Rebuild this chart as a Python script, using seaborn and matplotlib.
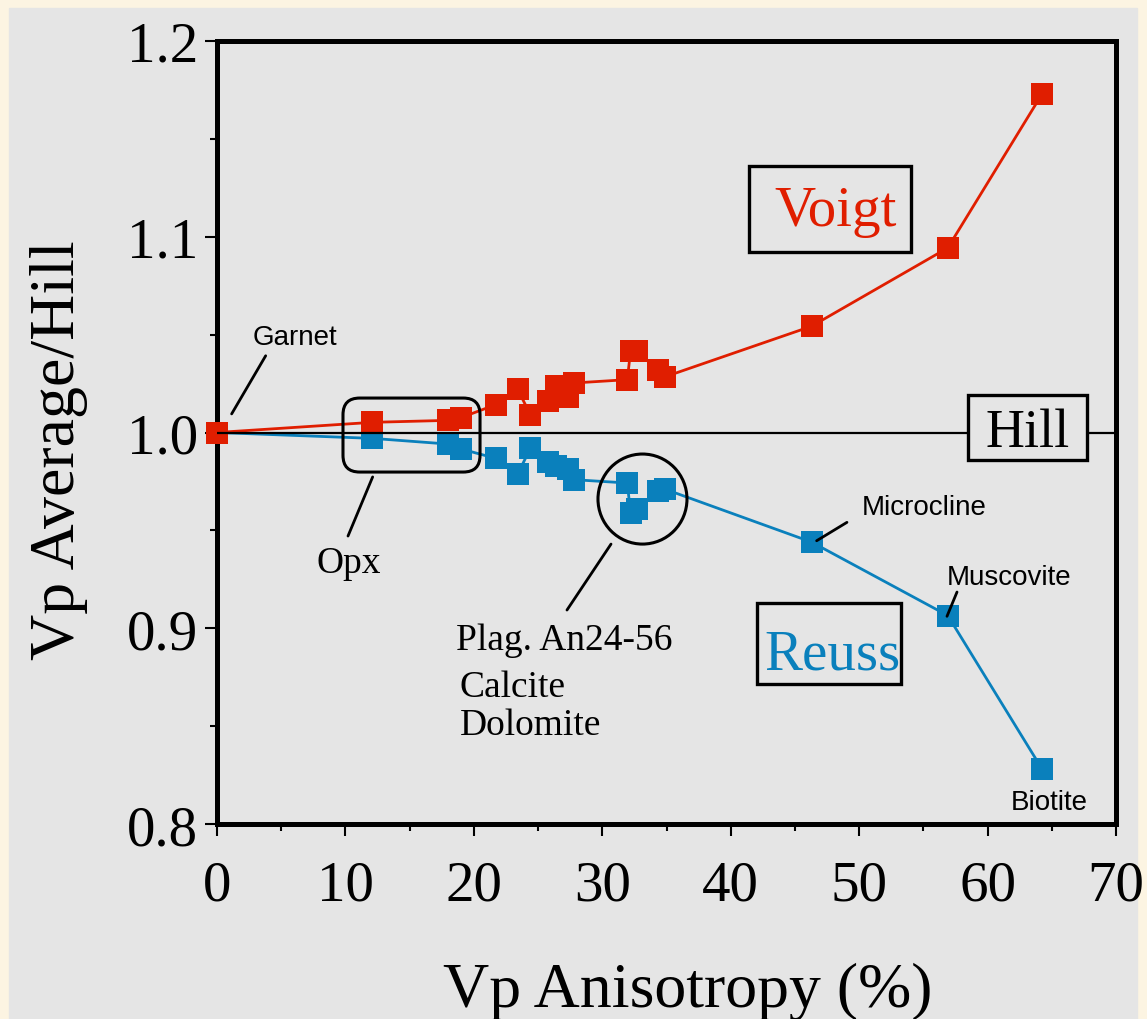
import pandas as pd
import numpy as np

import seaborn as sns
import matplotlib.pyplot as plt
from matplotlib.patches import Rectangle, FancyBboxPatch, Ellipse
from matplotlib.ticker import MultipleLocator

sns.set_style("white")
plt.rcParams["font.family"] = ["Liberation Serif", "DejaVu Serif"]
plt.rcParams.update({"text.color": "black", "axes.labelcolor": "black",
                     "xtick.color": "black", "ytick.color": "black"})

SANS = ["Liberation Sans", "DejaVu Sans"]
RED = "#e01e00"
BLUE = "#0a80bc"
GRAY = "#e5e5e5"
CREAM = "#fcf4e2"

# Vp anisotropy (%) of each mineral and its Voigt / Reuss average normalised by Hill
anisotropy = [0.0, 12.1, 18.0, 19.0, 21.7, 23.4, 24.4, 25.75, 26.4, 27.3, 27.8,
              31.95, 32.2, 32.7, 34.3, 34.9, 46.3, 56.9, 64.25]
voigt = [1.000, 1.0052, 1.0062, 1.0076, 1.0142, 1.0222, 1.0091, 1.016, 1.0236,
         1.018, 1.0253, 1.027, 1.0416, 1.0416, 1.0319, 1.0285, 1.0543, 1.0943, 1.173]
reuss = [1.000, 0.997, 0.9941, 0.9916, 0.9868, 0.9786, 0.9919, 0.9851, 0.983,
         0.9814, 0.9759, 0.9742, 0.9587, 0.9609, 0.9701, 0.971, 0.944, 0.9065, 0.828]

df = pd.DataFrame({"anisotropy": anisotropy, "Voigt": voigt, "Reuss": reuss})

fig = plt.figure(figsize=(11.47, 10.20), dpi=100, facecolor=CREAM)
fig.add_artist(Rectangle((9 / 1147, 0), 1128 / 1147, 1011 / 1020,
                         transform=fig.transFigure, color=GRAY, zorder=-10))
ax = fig.add_axes([217 / 1147, 195 / 1020, 899 / 1147, 783 / 1020])
ax.set_facecolor(GRAY)

sns.lineplot(data=df, x="anisotropy", y="Reuss", ax=ax, color=BLUE, marker="s",
             markersize=16, markeredgewidth=0, lw=2.0, estimator=None,
             clip_on=False, zorder=3)
sns.lineplot(data=df, x="anisotropy", y="Voigt", ax=ax, color=RED, marker="s",
             markersize=16, markeredgewidth=0, lw=2.0, estimator=None,
             clip_on=False, zorder=4)

# Hill reference line
ax.axhline(1.0, color="black", lw=1.6, zorder=5)

ax.set_xlim(0, 70)
ax.set_ylim(0.8, 1.2)
ax.xaxis.set_major_locator(MultipleLocator(10))
ax.xaxis.set_minor_locator(MultipleLocator(5))
ax.yaxis.set_major_locator(MultipleLocator(0.1))
ax.yaxis.set_minor_locator(MultipleLocator(0.05))
ax.tick_params(which="both", direction="out", width=1.5, labelsize=41,
               colors="black", left=True, bottom=True)
ax.tick_params(which="major", length=8.6)
ax.tick_params(which="minor", length=5)
ax.tick_params(axis="x", pad=17)
ax.tick_params(axis="y", pad=5)
for sp in ax.spines.values():
    sp.set_linewidth(3.6)
    sp.set_color("black")
    sp.set_zorder(2)

ax.set_xlabel("Vp Anisotropy (%)", fontsize=46)
ax.set_ylabel("Vp Average/Hill", fontsize=46)
ax.xaxis.set_label_coords(0.524, -0.176)
ax.yaxis.set_label_coords(-0.1435, 0.479)

# labelled boxes
box_kw = dict(fill=True, fc=GRAY, ec="black", lw=2.4, zorder=6)
ax.add_patch(Rectangle((41.42, 1.0921), 12.62, 0.044, **box_kw))
ax.text(48.16, 1.1062, "Voigt", color=RED, fontsize=41, ha="center", va="baseline", zorder=7)
ax.add_patch(Rectangle((58.48, 0.9860), 9.26, 0.0332, clip_on=False, **box_kw))
ax.text(63.15, 0.9933, "Hill", color="black", fontsize=39, ha="center", va="baseline", zorder=7)
ax.add_patch(Rectangle((42.05, 0.8716), 11.21, 0.0413, **box_kw))
ax.text(47.93, 0.8792, "Reuss", color=BLUE, fontsize=41, ha="center", va="baseline", zorder=7)

# grouping marks
ax.add_patch(FancyBboxPatch((9.81, 0.9798), 10.67, 0.0378,
                            boxstyle="round,pad=0,rounding_size=1.3",
                            mutation_aspect=12.843 / 1957.5,
                            fill=False, ec="black", lw=2.2, zorder=6))
ax.add_patch(Ellipse((33.13, 0.966), 6.93, 0.046, fill=False, ec="black", lw=2.2, zorder=6))

leaders = [
    ((3.79, 1.14), (1.0392, 1.0095)),
    ((12.12, 10.2), (0.9773, 0.9471)),
    ((30.68, 27.25), (0.9430, 0.9093)),
    ((49.05, 46.69), (0.9541, 0.9447)),
    ((57.62, 56.84), (0.9185, 0.9061)),
]
for xs, ys in leaders:
    ax.plot(xs, ys, color="black", lw=2.0, zorder=8, clip_on=False)

# mineral names
ax.text(2.78, 1.0452, "Garnet", fontsize=20, family=SANS, va="baseline")
ax.text(50.22, 0.9584, "Microcline", fontsize=20, family=SANS, va="baseline")
ax.text(56.84, 0.9226, "Muscovite", fontsize=20, family=SANS, va="baseline")
ax.text(61.8, 0.8077, "Biotite", fontsize=20, family=SANS, va="baseline")
ax.text(10.28, 0.9287, "Opx", fontsize=27, ha="center", va="baseline")
ax.text(18.61, 0.8894, "Plag. An24-56", fontsize=27, va="baseline")
ax.text(18.92, 0.8655, "Calcite", fontsize=27, va="baseline")
ax.text(18.92, 0.8460, "Dolomite", fontsize=27, va="baseline")

fig.savefig("out.png", dpi=100, facecolor=CREAM)
